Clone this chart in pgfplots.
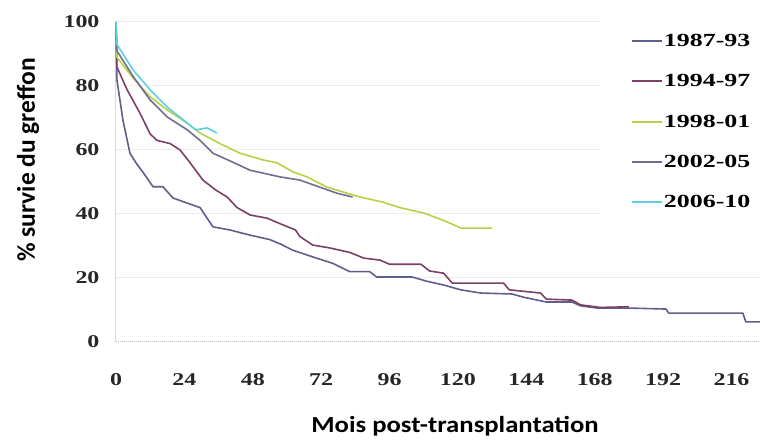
\documentclass[border=0pt]{standalone}
\usepackage{fontspec}
\setmainfont{Liberation Serif}
\newfontfamily\carl{Carlito}
\usepackage{pgfplots}
\pgfplotsset{compat=1.18}
\definecolor{cA}{HTML}{5F5F8C}
\definecolor{cB}{HTML}{7E3F66}
\definecolor{cC}{HTML}{B8D046}
\definecolor{cD}{HTML}{6E6E8E}
\definecolor{cE}{HTML}{5CCFE0}
\definecolor{gridc}{HTML}{EEEEEE}
\newcommand{\wide}[1]{\scalebox{1.33}[1]{#1}}
\newcommand{\lwide}[1]{\scalebox{1.4}[1]{#1}}
\begin{document}
\begin{tikzpicture}
\useasboundingbox (-116pt,-99pt) rectangle (644pt,342pt);
\begin{axis}[
  at={(0,0)}, anchor=south west,
  scale only axis, width=644pt, height=320pt,
  xmin=0, xmax=226, ymin=0, ymax=100,
  axis line style={draw=none},
  xtick={0,24,...,216}, ytick={0,20,...,100},
  major tick length=0pt, minor tick length=0pt,
  /pgf/number format/assume math mode=true,
  xticklabel={\wide{\pgfmathprintnumber{\tick}}},
  yticklabel={\wide{\pgfmathprintnumber{\tick}}},
  ticklabel style={font=\bfseries\fontsize{18}{18}\selectfont, text=black!85},
  xticklabel style={yshift=-28pt},
  yticklabel style={xshift=-13pt},
  clip=false,
  legend cell align=left,
  legend style={at={(0.795,0.972)}, anchor=north west, draw=none, fill=none,
    font=\bfseries\fontsize{18.5}{18.5}\selectfont, row sep=24.5pt,
    /tikz/every even column/.append style={column sep=2pt},
    nodes={inner sep=1pt}},
  legend image code/.code={\draw[#1, line width=1.8pt] (0pt,0pt) -- (30pt,0pt);},
  every axis plot/.append style={line width=1.6pt, line join=round},
]
\pgfplotsinvokeforeach{40,60,80,100}{\draw[gridc, line width=1pt] (axis cs:0,#1) -- (axis cs:170,#1);}
\draw[gridc, line width=1pt] (axis cs:0,20) -- (axis cs:226,20);
\draw[black!15, line width=1pt] (axis cs:0,0) -- (axis cs:0,100);
\draw[black!25, line width=1pt, densely dotted] (axis cs:0,0) -- (axis cs:226,0);

\addplot[cA] coordinates {
(0,100) (0.3,82) (2.5,69) (4.9,59) (7,56) (9.5,53) (13,48.5) (16.5,48.5) (20,45) (25,43.4) (29.5,42) (34,36) (40,35) (47,33.4) (54,32) (58,30.5) (62,28.7) (69,26.6) (76,24.6) (82,22) (89,22) (91.5,20.3) (104,20.3) (109,19) (115,17.8) (121,16.3) (128,15.3) (139,15) (143,14) (151,12.5) (160,12.5) (163,11.3) (169,10.6) (180,10.6) (193,10.3) (194,9) (220,9) (221,6.3) (226,6.3)};
\addlegendentry{\lwide{1987-93}}
\addplot[cB] coordinates {
(0,100) (0.3,86) (3.8,79) (8.4,71.5) (12,65) (14.4,63) (19,62) (22.5,60) (26,56) (30.5,50.6) (35,47.5) (39,45.3) (42.5,42) (47,39.7) (53,38.7) (57.5,37) (63,35) (64.5,33) (69,30.3) (75,29.4) (82,28) (87,26.2) (92.6,25.6) (96,24.3) (107,24.3) (110,22.2) (115,21.5) (118,18.4) (136,18.4) (138,16.3) (149,15.3) (151,13.4) (160,13.1) (163,11.6) (170,10.8) (180,11)};
\addlegendentry{\lwide{1994-97}}
\addplot[cC] coordinates {
(0,100) (0.3,89) (6,82.5) (12,76.6) (18,72.5) (25,68.4) (29.5,65.3) (36.5,62) (43.5,59) (51.6,56.9) (56.5,56) (62,53.2) (67,51.6) (74,48.4) (85.6,45.3) (93.7,43.7) (99.6,42) (108,40.3) (115,38) (121,35.6) (132,35.6)};
\addlegendentry{\lwide{1998-01}}
\addplot[cD] coordinates {
(0,100) (0.3,91) (6,83) (12,75.6) (18,70.3) (25,66.3) (29.5,63) (34,59) (39,57) (47,53.7) (57.5,51.6) (64.5,50.6) (71.5,48.4) (77.5,46.5) (83,45.3)};
\addlegendentry{\lwide{2002-05}}
\addplot[cE] coordinates {
(0,100) (0.3,93) (6,85) (12,78.8) (18,73.4) (25,68.4) (28,66.3) (32,66.9) (35.4,65.3)};
\addlegendentry{\lwide{2006-10}}
\end{axis}
\node[rotate=90, font=\carl\bfseries\fontsize{25.5}{25.5}\selectfont] at (-88pt,182pt) {\% survie du greffon};
\node[font=\carl\bfseries\fontsize{23}{23}\selectfont] at (339pt,-84pt) {\scalebox{1.16}[1]{Mois post-transplantation}};
\end{tikzpicture}
\end{document}
